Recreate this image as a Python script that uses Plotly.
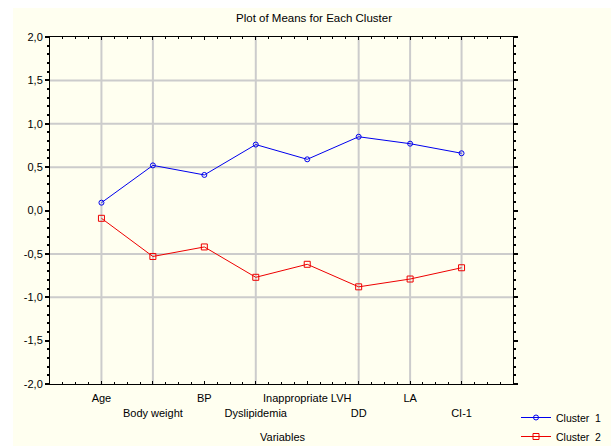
import plotly.graph_objects as go

categories = ["Age", "Body weight", "BP", "Dyslipidemia", "Inappropriate LVH", "DD", "LA", "CI-1"]
cluster1 = [0.09, 0.52, 0.41, 0.76, 0.59, 0.85, 0.77, 0.66]
cluster2 = [-0.09, -0.53, -0.42, -0.77, -0.62, -0.88, -0.79, -0.66]
y_tick_vals = [2.0, 1.5, 1.0, 0.5, 0.0, -0.5, -1.0, -1.5, -2.0]
y_tick_labels = ["2,0", "1,5", "1,0", "0,5", "0,0", "-0,5", "-1,0", "-1,5", "-2,0"]
x_grid_idx = [0, 1, 3, 5, 6, 7]
y_grid_vals = [1.5, 1.0, 0.5, -0.5, -1.0]

FONT = "Liberation Sans, Arial, sans-serif"
CREAM = "#FFFFF0"
GRID = "#CCCCCC"

xpos = list(range(len(categories)))
ticktext = [c if i % 2 == 0 else "<br>" + c for i, c in enumerate(categories)]

fig = go.Figure()
fig.add_trace(go.Scatter(
    x=xpos, y=cluster1, mode="lines+markers", name="Cluster  1",
    line=dict(color="#0000EE", width=1),
    marker=dict(symbol="circle-open", size=5, color="#0000EE", line=dict(width=1)),
))
fig.add_trace(go.Scatter(
    x=xpos, y=cluster2, mode="lines+markers", name="Cluster  2",
    line=dict(color="#EE0000", width=1),
    marker=dict(symbol="square-open", size=6, color="#EE0000", line=dict(width=1)),
))

shapes = []
W, H = 611, 446
L, R, T, B = 50, 98, 37, 62
pw, ph = W - L - R, H - T - B
# cream page background (paper coords relative to plot area)
shapes.append(dict(type="rect", xref="paper", yref="paper",
                   x0=(13 - L) / pw, x1=(W - L) / pw,
                   y0=-B / ph, y1=(H - B - 8) / ph,
                   fillcolor=CREAM, line=dict(width=0), layer="below"))
for gx in x_grid_idx:
    shapes.append(dict(type="line", xref="x", yref="paper", x0=gx, x1=gx, y0=0, y1=1,
                       line=dict(color=GRID, width=2), layer="below"))
for gy in y_grid_vals:
    shapes.append(dict(type="line", xref="paper", yref="y", x0=0, x1=1, y0=gy, y1=gy,
                       line=dict(color=GRID, width=2), layer="below"))

fig.update_layout(
    width=W, height=H,
    margin=dict(l=L, r=R, t=T, b=B, pad=0, autoexpand=False),
    paper_bgcolor="white", plot_bgcolor="white",
    font=dict(family=FONT, size=11, color="black"),
    title=dict(text="Plot of Means for Each Cluster", x=314 / W, xref="container",
               xanchor="center", y=1 - 18 / H, yref="container", yanchor="middle",
               font=dict(size=11.5, color="black")),
    shapes=shapes,
    showlegend=True,
    legend=dict(x=(516 - L) / pw, y=(H - B - 403) / ph, xanchor="left", yanchor="top",
                bgcolor="rgba(0,0,0,0)", font=dict(size=10.5), tracegroupgap=0,
                itemwidth=30),
    annotations=[dict(text="Variables", xref="paper", yref="paper",
                      x=(283 - L) / pw, y=(H - B - 437) / ph,
                      xanchor="center", yanchor="middle", showarrow=False,
                      font=dict(size=11))],
)
fig.update_xaxes(
    range=[-1, 8], tickvals=xpos, ticktext=ticktext, showgrid=False, zeroline=False,
    showline=True, linecolor="black", linewidth=1, mirror="ticks",
    ticks="inside", ticklen=3, tickcolor="black", tickangle=0, automargin=False,
    minor=dict(dtick=0.25, tick0=0, ticks="inside", ticklen=2, tickcolor="black", showgrid=False),
    ticklabelstandoff=4,
)
fig.update_yaxes(
    range=[-2, 2], tickvals=y_tick_vals, ticktext=y_tick_labels, showgrid=False, zeroline=False,
    showline=True, linecolor="black", linewidth=1, mirror="ticks", automargin=False,
    ticks="outside", ticklen=4, tickwidth=2, tickcolor="black",
    minor=dict(dtick=0.1, tick0=0, ticks="outside", ticklen=2, tickcolor="black", showgrid=False),
)

fig.write_html("out.html")
